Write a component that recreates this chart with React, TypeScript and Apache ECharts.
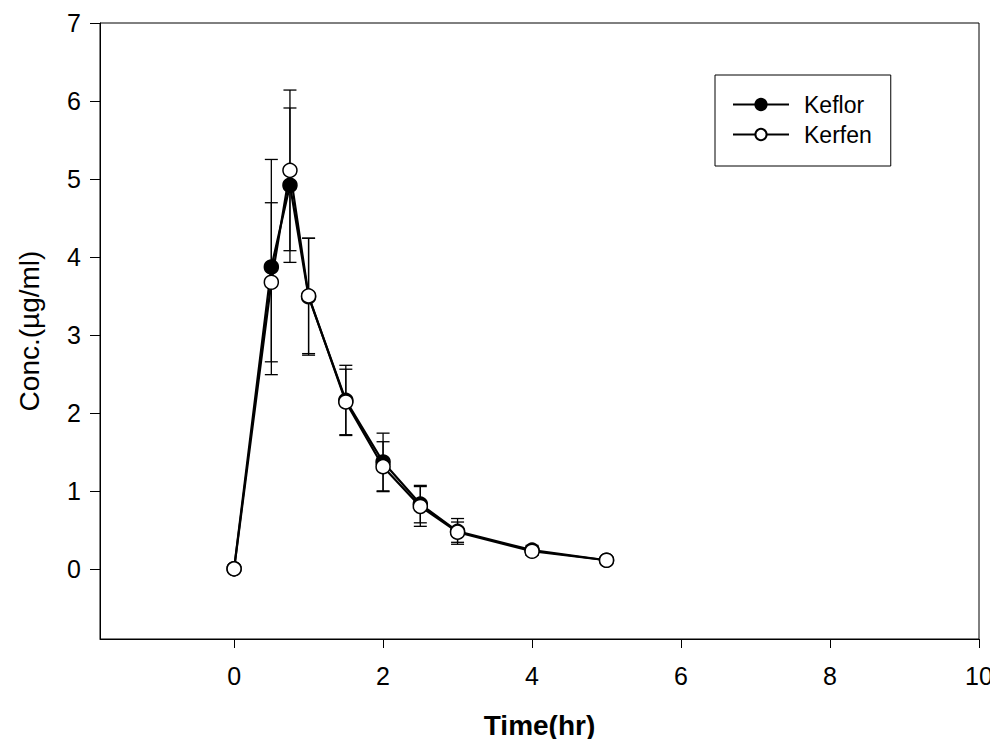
import React, { useEffect, useRef } from "react";
import * as echarts from "echarts";

const timeHr = [0, 0.5, 0.75, 1, 1.5, 2, 2.5, 3, 4, 5];
const keflor = [0, 3.87, 4.92, 3.49, 2.16, 1.37, 0.83, 0.48, 0.24, 0.11];
const keflorSd = [0, 1.38, 0.99, 0.75, 0.45, 0.37, 0.24, 0.165, 0.06, 0.03];
const kerfen = [0, 3.675, 5.11, 3.5, 2.14, 1.31, 0.8, 0.47, 0.225, 0.11];
const kerfenSd = [0, 1.02, 1.03, 0.74, 0.42, 0.32, 0.255, 0.13, 0.05, 0.03];
const xTicks = [0, 2, 4, 6, 8, 10];
const yTicks = [0, 1, 2, 3, 4, 5, 6, 7];

const FONT = "'Liberation Sans', Arial, sans-serif";

function errData(vals: number[], sds: number[]) {
  return timeHr.map((t, i) => [t, vals[i] - sds[i], vals[i] + sds[i]]);
}

function errSeries(name: string, vals: number[], sds: number[]) {
  return {
    type: "custom",
    name: name + " err",
    z: 1,
    silent: true,
    data: errData(vals, sds),
    encode: { x: 0, y: [1, 2] },
    renderItem: (params: any, api: any) => {
      const x = api.value(0);
      const lo = api.coord([x, api.value(1)]);
      const hi = api.coord([x, api.value(2)]);
      const hw = 6.5;
      const style = { stroke: "#000", lineWidth: 1.3, fill: "none" };
      return {
        type: "group",
        children: [
          { type: "line", shape: { x1: lo[0], y1: lo[1], x2: hi[0], y2: hi[1] }, style },
          { type: "line", shape: { x1: lo[0] - hw, y1: lo[1], x2: lo[0] + hw, y2: lo[1] }, style },
          { type: "line", shape: { x1: hi[0] - hw, y1: hi[1], x2: hi[0] + hw, y2: hi[1] }, style },
        ],
      };
    },
  };
}

export default function App() {
  const ref = useRef<HTMLDivElement>(null);
  useEffect(() => {
    if (!ref.current) return;
    const chart = echarts.init(ref.current, undefined, { renderer: "svg" });
    chart.setOption({
      animation: false,
      backgroundColor: "#fff",
      textStyle: { fontFamily: FONT },
      grid: {
        left: 100,
        right: 19,
        top: 23,
        bottom: 108,
        show: true,
        borderColor: "#000",
        borderWidth: 1,
        containLabel: false,
      },
      legend: {
        orient: "vertical",
        left: 715,
        top: 75,
        padding: [18, 19, 20, 17],
        itemGap: 7,
        itemWidth: 56,
        itemHeight: 14,
        borderColor: "#000",
        borderWidth: 1,
        backgroundColor: "#fff",
        data: ["Keflor", "Kerfen"],
        textStyle: { fontFamily: FONT, fontSize: 23, color: "#000", padding: [0, 0, 0, 10] },
      },
      xAxis: {
        type: "value",
        min: -1.8,
        max: 10,
        name: "Time(hr)",
        nameLocation: "middle",
        nameGap: 72,
        nameTextStyle: { fontFamily: FONT, fontSize: 28, fontWeight: "bold", color: "#000" },
        axisLine: { onZero: false, lineStyle: { color: "#000", width: 1 } },
        axisTick: { show: true, inside: false, length: 9, customValues: xTicks, lineStyle: { color: "#000" } },
        axisLabel: { customValues: xTicks, fontSize: 25, color: "#000", margin: 24, fontFamily: FONT },
        splitLine: { show: false },
      },
      yAxis: {
        type: "value",
        min: -0.9,
        max: 7,
        name: "Conc.(µg/ml)",
        nameLocation: "middle",
        nameGap: 57,
        nameTextStyle: { fontFamily: FONT, fontSize: 28, color: "#000" },
        axisLine: { onZero: false, lineStyle: { color: "#000", width: 1 } },
        axisTick: { show: true, inside: false, length: 10, customValues: yTicks, lineStyle: { color: "#000" } },
        axisLabel: { customValues: yTicks, fontSize: 25, color: "#000", margin: 19, fontFamily: FONT },
        splitLine: { show: false },
      },
      series: [
        errSeries("Keflor", keflor, keflorSd),
        errSeries("Kerfen", kerfen, kerfenSd),
        {
          type: "line",
          name: "Keflor",
          z: 3,
          data: timeHr.map((t, i) => [t, keflor[i]]),
          symbol: "circle",
          symbolSize: 14,
          lineStyle: { color: "#000", width: 2.2 },
          itemStyle: { color: "#000", borderColor: "#000", borderWidth: 1.5 },
        },
        {
          type: "line",
          name: "Kerfen",
          z: 4,
          data: timeHr.map((t, i) => [t, kerfen[i]]),
          symbol: "circle",
          symbolSize: 14,
          showAllSymbol: true,
          lineStyle: { color: "#000", width: 2.2 },
          itemStyle: { color: "#fff", borderColor: "#000", borderWidth: 1.5 },
        },
      ],
    });
    return () => chart.dispose();
  }, []);
  return <div ref={ref} style={{ width: 998, height: 747, margin: -8 }} />;
}
